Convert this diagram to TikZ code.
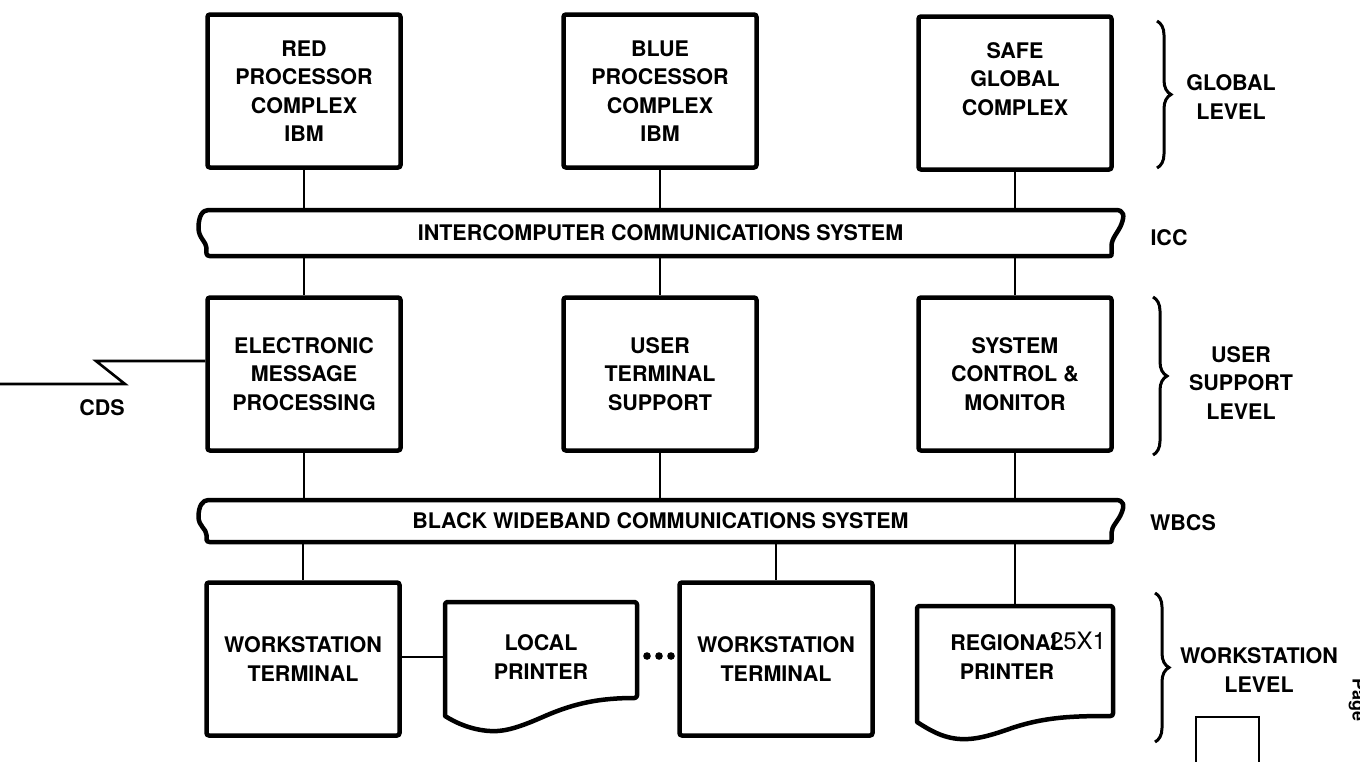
\documentclass[tikz,border=0pt]{standalone}
\usepackage{fontspec}
\setmainfont{TeX Gyre Heros}
\usetikzlibrary{decorations.pathreplacing,calc}
\begin{document}
\begin{tikzpicture}[x=1pt,y=-1pt,
  lbl/.style={font=\fontsize{21.5}{28.5}\selectfont\bfseries, align=center, inner sep=0pt},
  blk/.style={lbl, draw, line width=4.5pt, rounded corners=2.5pt, minimum width=193pt, minimum height=153pt},
  ghost/.style={lbl, minimum width=190pt, minimum height=108pt},
  busbox/.style={lbl, minimum width=910pt},
  conn/.style={line width=2.6pt},
  outline/.style={line width=4.5pt, line join=round},
  brc/.style={line width=3pt, decorate, decoration={brace, amplitude=14pt}},
  lvl/.style={lbl}
]
\useasboundingbox (0,0) rectangle (1360,761);
\fill[white] (0,0) rectangle (1360,761);

% ---- global level
\node[blk] (red)  at (304,91)  {RED\\PROCESSOR\\COMPLEX\\IBM};
\node[blk] (blue) at (660,91)  {BLUE\\PROCESSOR\\COMPLEX\\IBM};
\node[blk] (safe) at (1015,93) {SAFE\\GLOBAL\\COMPLEX\\~};

% ---- ICC bus
\node[busbox, minimum height=46pt] (icc) at (660.5,233) {INTERCOMPUTER COMMUNICATIONS SYSTEM};
\draw[outline] (208.5,210) -- (1115.5,210)
  .. controls (1124.5,210) and (1124.5,216) .. (1121.5,224)
  .. controls (1118.5,232) and (1111.5,238) .. (1111.5,246)
  -- (1111.5,254) .. controls (1111.5,256) .. (1109.5,256)
  -- (209.5,256) .. controls (205.5,256) and (206.5,252) .. (206.5,248)
  .. controls (206.5,242) and (198.5,238) .. (198.5,228)
  .. controls (198.5,216) and (202.5,210) .. (208.5,210) -- cycle;

% ---- user support level
\node[blk] (emp) at (304,374)  {ELECTRONIC\\MESSAGE\\PROCESSING};
\node[blk] (uts) at (660,374)  {USER\\TERMINAL\\SUPPORT};
\node[blk] (scm) at (1015,374) {SYSTEM\\CONTROL \&\\MONITOR};

% ---- WBCS bus
\node[busbox, minimum height=42pt] (wbcs) at (660.5,521) {BLACK WIDEBAND COMMUNICATIONS SYSTEM};
\draw[outline] (208.5,500) -- (1115.5,500)
  .. controls (1124.5,500) and (1124.5,506) .. (1121.5,513)
  .. controls (1118.5,521) and (1111.5,526) .. (1111.5,533)
  -- (1111.5,540) .. controls (1111.5,542) .. (1109.5,542)
  -- (209.5,542) .. controls (205.5,542) and (206.5,538) .. (206.5,535)
  .. controls (206.5,529) and (198.5,526) .. (198.5,517)
  .. controls (198.5,506) and (202.5,500) .. (208.5,500) -- cycle;

% ---- workstation level
\node[blk] (wt1) at (303,659) {WORKSTATION\\TERMINAL};
\node[ghost, minimum width=192pt] (lp) at (541,657) {LOCAL\\PRINTER};
\draw[outline, rounded corners=2.5pt] (445,602) -- (637,602) -- (637,698) [sharp corners]
  .. controls (600,698) and (575,703) .. (545,716)
  .. controls (520,727) and (505,732) .. (490,731)
  .. controls (472,730) and (456,723) .. (445,716) [rounded corners=2.5pt] -- cycle;
\node[blk] (wt2) at (776,659) {WORKSTATION\\TERMINAL};
\node[ghost, minimum width=196pt, minimum height=104pt] (rp) at (1015,658) {};
\node[lbl] (rptext) at (1007,657) {REGIONAL\\PRINTER};
\draw[outline, rounded corners=2.5pt] (917,606) -- (1113,606) -- (1113,716) [sharp corners]
  .. controls (1072,716) and (1045,717) .. (1012,728)
  .. controls (992,735) and (976,740) .. (960,739)
  .. controls (942,738) and (928,729) .. (917,722) [rounded corners=2.5pt] -- cycle;

% ---- connectors
\draw[conn] (red.south)  -- (red.south |- icc.north);
\draw[conn] (blue.south) -- (blue.south |- icc.north);
\draw[conn] (safe.south) -- (safe.south |- icc.north);
\draw[conn] (emp.north |- icc.south) -- (emp.north);
\draw[conn] (uts.north |- icc.south) -- (uts.north);
\draw[conn] (scm.north |- icc.south) -- (scm.north);
\draw[conn] (emp.south) -- (emp.south |- wbcs.north);
\draw[conn] (uts.south) -- (uts.south |- wbcs.north);
\draw[conn] (scm.south) -- (scm.south |- wbcs.north);
\draw[conn] (wt1.north |- wbcs.south) -- (wt1.north);
\draw[conn] (wt2.north |- wbcs.south) -- (wt2.north);
\draw[conn] (rp.north |- wbcs.south) -- (rp.north);
\draw[conn] (lp.west -| wt1.east) -- (lp.west);

% ellipsis
\fill (647,656) circle (3.8);
\fill (659,656) circle (3.8);
\fill (671,656) circle (3.8);

% ---- CDS line
\coordinate (cdsend) at (0,384);
\node[lbl] (cds) at (102,408) {CDS};
\draw[conn] (cdsend) -- (125,384) -- (96,361) -- ($(emp.west)+(0,-13)$);

% ---- level labels and braces
\draw[brc] (1157,21) -- (1157,168);
\node[lvl] (glob) at (1231,97) {GLOBAL\\LEVEL};
\node[lvl] (iccl) at (1169,238) {ICC};
\draw[brc] (1153,297) -- (1153,455);
\node[lvl] (usl) at (1241,383) {USER\\SUPPORT\\LEVEL};
\node[lvl] (wbl) at (1183,523) {WBCS};
\draw[brc] (1155,593) -- (1155,742);
\node[lvl] (wsl) at (1259,670) {WORKSTATION\\LEVEL};

% ---- scan marks
\node[font=\fontsize{24}{24}\selectfont, inner sep=0pt] (stamp) at (1078,641) {25X1};
\draw[line width=2pt] (1196,717) rectangle (1259,764);
\node[font=\fontsize{18}{18}\selectfont\bfseries, rotate=-90, anchor=base, inner sep=0pt] (pg) at (1352.5,700) {Page};
\end{tikzpicture}
\end{document}
